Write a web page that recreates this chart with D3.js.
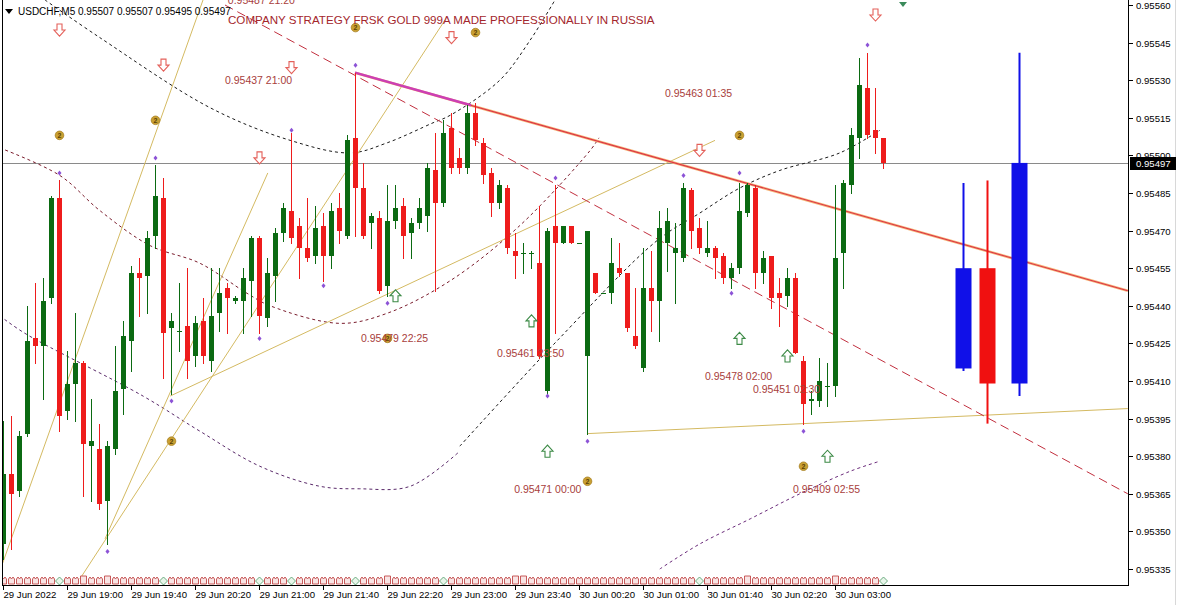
<!DOCTYPE html>
<html><head><meta charset="utf-8">
<script src="https://cdn.jsdelivr.net/npm/d3@7"></script>
<style>
html,body{margin:0;padding:0;background:#fff;}
svg text{font-family:"Liberation Sans",Arial,sans-serif;}
</style></head>
<body><svg id="c" width="1177" height="605"></svg>
<script>
// ---------------- DATA ----------------
const symbolHeader = "USDCHF,M5  0.95507 0.95507 0.95495 0.95497";
const chartTitle = "COMPANY STRATEGY FRSK GOLD 999A MADE PROFESSIONALLY IN RUSSIA";
const lastPrice = 0.95497;
const priceTicks = [0.95335,0.95350,0.95365,0.95380,0.95395,0.95410,0.95425,0.95440,0.95455,0.95470,0.95485,0.95500,0.95515,0.95530,0.95545,0.95560];
const timeTickBars = [0,8,16,24,32,40,48,56,64,72,80,88,96,104];
const timeTickLabels = ["29 Jun 2022","29 Jun 19:00","29 Jun 19:40","29 Jun 20:20","29 Jun 21:00","29 Jun 21:40","29 Jun 22:20","29 Jun 23:00","29 Jun 23:40","30 Jun 00:20","30 Jun 01:00","30 Jun 01:40","30 Jun 02:20","30 Jun 03:00"];

const openP = [0.95345,0.95373,0.95366,0.95389,0.95427,0.95424,0.95443,0.95483,0.95398,0.95409,
0.95417,0.95384,0.95383,0.95362,0.95383,0.95407,0.95426,0.95453,0.95452,0.95468,
0.95483,0.95431,0.95430,0.95432,0.95420,0.95434,0.95418,0.95437,0.95447,0.95442,
0.95442,0.95450,0.95467,0.95435,0.95452,0.95469,0.95478,0.95472,0.95463,0.95460,
0.95472,0.95460,0.95479,0.95468,0.95507,0.95487,0.95473,0.95475,0.95448,0.95474,
0.95480,0.95469,0.95473,0.95476,0.95494,0.95481,0.95511,0.95499,0.95495,0.95517,
0.95505,0.95493,0.95481,0.95487,0.95462,0.95461,0.95461,0.95457,0.95406,0.95472,
0.95465,0.95472,0.95465,0.95420,0.95453,0.95445,0.95445,0.95455,0.95453,0.95428,
0.95415,0.95447,0.95442,0.95465,0.95461,0.95459,0.95486,0.95471,0.95461,0.95463,
0.95460,0.95451,0.95455,0.95477,0.95487,0.95453,0.95460,0.95445,0.95444,0.95451,
0.95418,0.95402,0.95402,0.95408,0.95408,0.95461,0.95488,0.95507,0.95527,0.95510,0.95507];
const highP = [0.95394,0.95396,0.95390,0.95440,0.95449,0.95451,0.95484,0.95490,0.95422,0.95437,
0.95418,0.95403,0.95393,0.95386,0.95424,0.95434,0.95456,0.95459,0.95470,0.95496,
0.95491,0.95437,0.95449,0.95455,0.95436,0.95443,0.95455,0.95455,0.95449,0.95444,
0.95455,0.95468,0.95468,0.95459,0.95471,0.95481,0.95509,0.95475,0.95483,0.95480,
0.95477,0.95481,0.95485,0.95508,0.95533,0.95497,0.95477,0.95478,0.95488,0.95488,
0.95483,0.95475,0.95483,0.95497,0.95509,0.95514,0.95517,0.95503,0.95520,0.95521,
0.95507,0.95495,0.95490,0.95488,0.95469,0.95465,0.95462,0.95480,0.95471,0.95488,
0.95472,0.95472,0.95465,0.95470,0.95453,0.95445,0.95467,0.95465,0.95453,0.95447,
0.95463,0.95462,0.95478,0.95479,0.95473,0.95489,0.95487,0.95475,0.95474,0.95464,
0.95461,0.95457,0.95489,0.95489,0.95488,0.95462,0.95460,0.95451,0.95455,0.95453,
0.95420,0.95406,0.95419,0.95417,0.95488,0.95490,0.95511,0.95539,0.95541,0.95527,0.95507];
const lowP = [0.95339,0.95343,0.95364,0.95388,0.95417,0.95403,0.95441,0.95390,0.95395,0.95394,
0.95364,0.95362,0.95359,0.95345,0.95381,0.95397,0.95414,0.95436,0.95437,0.95463,
0.95411,0.95405,0.95422,0.95411,0.95416,0.95417,0.95414,0.95430,0.95429,0.95441,
0.95429,0.95436,0.95429,0.95432,0.95442,0.95466,0.95465,0.95451,0.95458,0.95457,
0.95450,0.95455,0.95465,0.95467,0.95468,0.95467,0.95463,0.95445,0.95444,0.95471,
0.95459,0.95459,0.95471,0.95470,0.95446,0.95480,0.95493,0.95493,0.95493,0.95504,
0.95489,0.95476,0.95479,0.95461,0.95451,0.95453,0.95455,0.95419,0.95405,0.95429,
0.95465,0.95465,0.95465,0.95389,0.95445,0.95445,0.95441,0.95452,0.95430,0.95423,
0.95414,0.95430,0.95426,0.95454,0.95441,0.95458,0.95463,0.95461,0.95460,0.95451,
0.95449,0.95447,0.95453,0.95476,0.95447,0.95449,0.95439,0.95432,0.95440,0.95421,
0.95393,0.95397,0.95400,0.95400,0.95404,0.95447,0.95485,0.95499,0.95507,0.95501,0.95495];
const closeP = [0.95373,0.95365,0.95388,0.95426,0.95424,0.95442,0.95483,0.95396,0.95409,0.95417,
0.95385,0.95386,0.95361,0.95384,0.95406,0.95428,0.95453,0.95451,0.95467,0.95484,
0.95429,0.95434,0.95430,0.95418,0.95433,0.95420,0.95436,0.95445,0.95443,0.95443,
0.95451,0.95467,0.95436,0.95453,0.95469,0.95479,0.95467,0.95463,0.95459,0.95471,
0.95460,0.95478,0.95470,0.95506,0.95487,0.95468,0.95476,0.95446,0.95474,0.95479,
0.95468,0.95473,0.95479,0.95495,0.95481,0.95509,0.95495,0.95495,0.95517,0.95506,
0.95492,0.95481,0.95488,0.95463,0.95460,0.95461,0.95461,0.95420,0.95470,0.95465,
0.95472,0.95465,0.95465,0.95470,0.95445,0.95445,0.95457,0.95453,0.95431,0.95424,
0.95447,0.95442,0.95471,0.95474,0.95463,0.95487,0.95470,0.95463,0.95463,0.95459,
0.95451,0.95455,0.95478,0.95488,0.95453,0.95459,0.95443,0.95443,0.95451,0.95421,
0.95401,0.95403,0.95410,0.95408,0.95459,0.95489,0.95508,0.95528,0.95508,0.95507,0.95497];

// projected higher-timeframe candles on the right
const projBars = [120, 123, 127];
const projOpen = [0.95415, 0.95455, 0.95409];
const projHigh = [0.95489, 0.95490, 0.95541];
const projLow = [0.95414, 0.95393, 0.95404];
const projClose = [0.95455, 0.95409, 0.95497];
const projKind = ["up", "down", "up"];

// fractal markers
const fractalUpBars = [7,19,36,44,69,85,92,108];
const fractalUpPrices = [0.95493,0.95499,0.95510,0.95536,0.95491,0.95492,0.95493,0.95544];
const fractalDnBars = [13,21,32,40,48,68,73,91,100];
const fractalDnPrices = [0.95342,0.95402,0.95427,0.95448,0.95441,0.95404,0.95386,0.95445,0.95390];

// signal arrows and icons
const sellArrowBars = [7,20,32,36,56,87,109];
const sellArrowPrices = [0.95550,0.95536,0.95499,0.95535,0.95547,0.95502,0.95556];
const buyArrowBars = [49,66,68,92,98,103];
const buyArrowPrices = [0.95444,0.95434,0.95382,0.95427,0.95420,0.95380];
const coinBars = [7,19,21,44,59,92,73,100,48];
const coinPrices = [0.95508,0.95514,0.95386,0.95551,0.95549,0.95508,0.95370,0.95376,0.95427];

// text annotations
const noteTexts = ["0.95437 21:00","0.95463 01:35","0.95479 22:25","0.95461 23:50","0.95478 02:00","0.95451 02:30","0.95471 00:00","0.95409 02:55","0.95487 21:20"];
const noteBars = [27.75,82.75,44.75,61.75,87.75,93.75,63.9,98.75,28.1];
const notePrices = [0.95530,0.95525,0.95427,0.95421,0.95412,0.95407,0.95367,0.95367,0.95562];

// bottom signal strip
const stripGreenBars = [7,20,32,36,44,55,87,110];
const stripTallBars = [10,13,48,64,65,93,104];

// band / envelope curves : [bar, price]
const bandBlackUpper = [[5.25,0.95562],[12.1,0.95547],[25.9,0.95519],[35.9,0.95506],[43.4,0.95501],[48,0.95505],[53.75,0.95513],[55.9,0.95516],[62.1,0.95530],[65.9,0.95546],[69,0.95562]];
const bandMaroonMid = [[-0.4,0.95503],[7.1,0.95492],[12.1,0.95478],[18.4,0.95464],[24.6,0.95457],[30.5,0.95445],[33.4,0.95440],[42.1,0.95433],[48,0.95437],[55.9,0.95450],[64.6,0.95472],[73.4,0.95502],[74.5,0.95507]];
const bandPurpleLower = [[-0.4,0.95436],[2.75,0.95429],[17.5,0.95404],[24.6,0.95390],[32.1,0.95376],[39.6,0.95368],[44.6,0.95367],[50.9,0.95368],[57.1,0.95382]];
const bandBlackLower = [[57.1,0.95384],[69.25,0.95426],[81.75,0.95466],[87.1,0.95477],[92.1,0.95487],[97.1,0.95494],[104.6,0.95501],[109.6,0.95510]];
const bandPurpleOuter = [[82.1,0.95335],[87.1,0.95345],[93.4,0.95355],[99.6,0.95365],[105.9,0.95374],[109.6,0.95378]];

// trend lines : [bar, price] pairs
const trendRedDashed = [[27.75,0.95560],[140.6,0.95365]];
const trendMainRay = [[44,0.95533],[140.6,0.95446]];
const trendMagenta = [[44,0.95533],[58.5,0.95520]];
const goldLines = [
  [[20.9,0.95404],[89,0.95506]],
  [[12.75,0.95347],[33.1,0.95493]],
  [[9.6,0.95331],[55.25,0.95554]],
  [[-0.75,0.95331],[25,0.95562]],
  [[73,0.95389],[140.6,0.95399]]
];

// ---------------- DRAW ----------------
const svg = d3.select("#c");
const W = 1177, H = 605;
const plotL = 2, plotR = 1128, plotB = 585;
const sx = d3.scaleLinear().domain([0,110]).range([3,883]);
const sy = d3.scaleLinear().domain([0.95335,0.95560]).range([569,5]);

svg.append("rect").attr("width",W).attr("height",H).attr("fill","#fff");
svg.append("defs").append("clipPath").attr("id","pc").append("rect")
  .attr("x",plotL).attr("y",0).attr("width",plotR-plotL).attr("height",plotB);
const g = svg.append("g").attr("clip-path","url(#pc)");

// current price line
g.append("line").attr("x1",plotL).attr("x2",plotR)
  .attr("y1",Math.round(sy(lastPrice))+0.5).attr("y2",Math.round(sy(lastPrice))+0.5)
  .attr("stroke","#8a8a8a").attr("stroke-width",1);

const lineGen = d3.line().x(d=>sx(d[0])).y(d=>sy(d[1]));
const curveGen = d3.line().x(d=>sx(d[0])).y(d=>sy(d[1])).curve(d3.curveCatmullRom);

// bands
const bandStyle = [[bandBlackUpper,"#1a1a1a"],[bandMaroonMid,"#7a1c2c"],[bandPurpleLower,"#5a2a6a"],[bandBlackLower,"#1a1a1a"],[bandPurpleOuter,"#6a2a7a"]];
bandStyle.forEach(([pts,col])=>{
  g.append("path").attr("d",curveGen(pts)).attr("fill","none").attr("stroke",col)
   .attr("stroke-width",1).attr("stroke-dasharray","3,3");
});

// gold lines
goldLines.forEach(pts=>{
  g.append("path").attr("d",lineGen(pts)).attr("fill","none").attr("stroke","#d4ba62").attr("stroke-width",1);
});

// red dashed
g.append("path").attr("d",lineGen(trendRedDashed)).attr("fill","none").attr("stroke","#c2303f")
  .attr("stroke-width",1).attr("stroke-dasharray","9,5");

// main ray
g.append("path").attr("d",lineGen(trendMainRay)).attr("fill","none").attr("stroke","#f5b676").attr("stroke-width",2.6);
g.append("path").attr("d",lineGen(trendMainRay)).attr("fill","none").attr("stroke","#dc3448").attr("stroke-width",1.1);
g.append("path").attr("d",lineGen(trendMagenta)).attr("fill","none").attr("stroke","#cc3fb4").attr("stroke-width",2.4);

// candles
const upCol = "#0b6a12", dnCol = "#ee1c1c";
openP.forEach((o,i)=>{
  const c = closeP[i], h = highP[i], l = lowP[i];
  const cx = Math.round(sx(i));
  const col = c > o ? upCol : (c < o ? dnCol : upCol);
  g.append("line").attr("x1",cx+0.5).attr("x2",cx+0.5)
    .attr("y1",Math.round(sy(h))).attr("y2",Math.round(sy(l))+1)
    .attr("stroke",col).attr("stroke-width",1);
  const yt = Math.round(sy(Math.max(o,c))), yb = Math.round(sy(Math.min(o,c)));
  g.append("rect").attr("x",cx-2).attr("width",5)
    .attr("y",yt).attr("height",Math.max(1,yb-yt)).attr("fill",col);
});

// projected candles
projBars.forEach((b,i)=>{
  const cx = Math.round(sx(b));
  const col = projKind[i]==="up" ? "#1010e8" : "#f01010";
  g.append("line").attr("x1",cx+0.5).attr("x2",cx+0.5)
    .attr("y1",sy(projHigh[i])).attr("y2",sy(projLow[i])).attr("stroke",col).attr("stroke-width",2);
  const yt = sy(Math.max(projOpen[i],projClose[i])), yb = sy(Math.min(projOpen[i],projClose[i]));
  g.append("rect").attr("x",cx-7.5).attr("width",16).attr("y",yt).attr("height",yb-yt).attr("fill",col);
});

// fractals (small purple diamonds)
const diamond = (x,y)=>`M${x},${y-2.5}L${x+2},${y}L${x},${y+2.5}L${x-2},${y}Z`;
fractalUpBars.forEach((b,i)=>g.append("path").attr("d",diamond(sx(b)+0.5,sy(fractalUpPrices[i]))).attr("fill","#8c52d6"));
fractalDnBars.forEach((b,i)=>g.append("path").attr("d",diamond(sx(b)+0.5,sy(fractalDnPrices[i]))).attr("fill","#8c52d6"));

// hollow arrows
function downArrow(x,y){
  return `M${x-2.5},${y-6}H${x+2.5}V${y}H${x+5.5}L${x},${y+6}L${x-5.5},${y}H${x-2.5}Z`;
}
function upArrow(x,y){
  return `M${x-2.5},${y+6}H${x+2.5}V${y}H${x+5.5}L${x},${y-6}L${x-5.5},${y}H${x-2.5}Z`;
}
sellArrowBars.forEach((b,i)=>g.append("path").attr("d",downArrow(sx(b)+0.5,sy(sellArrowPrices[i])))
  .attr("fill","#fff").attr("stroke","#e4605a").attr("stroke-width",1.1));
buyArrowBars.forEach((b,i)=>g.append("path").attr("d",upArrow(sx(b)+0.5,sy(buyArrowPrices[i])))
  .attr("fill","#fff").attr("stroke","#3c8a46").attr("stroke-width",1.1));

// coin icons
coinBars.forEach((b,i)=>{
  const x = sx(b)+0.5, y = sy(coinPrices[i]);
  g.append("circle").attr("cx",x).attr("cy",y).attr("r",4.3).attr("fill","#c9a032").attr("stroke","#a88224").attr("stroke-width",0.8);
  g.append("text").attr("x",x).attr("y",y+2.6).attr("text-anchor","middle").attr("font-size","7px")
    .attr("font-weight","bold").attr("fill","#5c4306").text("2");
});

// notes
noteTexts.forEach((t,i)=>{
  g.append("text").attr("x",sx(noteBars[i])).attr("y",sy(notePrices[i])+4)
    .attr("font-size","10.5px").attr("fill","#a8403c").text(t);
});

// bottom signal strip
d3.range(0,111).forEach(i=>{
  const x = sx(i)+0.5;
  const green = stripGreenBars.includes(i), tall = stripTallBars.includes(i);
  let d;
  if(green) d = `M${x-4},${581}L${x},${577}L${x+4},${581}L${x},${585}Z`;
  else if(tall) d = `M${x-3},${576}H${x+3}V${584}H${x-3}Z`;
  else d = `M${x-3},${584}V${579}L${x-1.5},${577}L${x},${579}L${x+1.5},${577}L${x+3},${579}V${584}Z`;
  g.append("path").attr("d",d).attr("fill",green?"#e8f6ea":"#f8e4e4")
   .attr("stroke",green?"#5aa070":"#c24a4a").attr("stroke-width",0.9);
});

// small green marker top
g.append("path").attr("d","M899,2L907,2L903,7Z").attr("fill","#3a8a5a");

// header
svg.append("path").attr("d","M5,9L13,9L9,14Z").attr("fill","#000");
svg.append("text").attr("x",18).attr("y",15).attr("font-size","10px").attr("fill","#000").text(symbolHeader);
svg.append("text").attr("x",228).attr("y",24).attr("font-size","11.6px").attr("fill","#a3262c").text(chartTitle);

// frame
svg.append("line").attr("x1",2.5).attr("x2",2.5).attr("y1",0).attr("y2",plotB+0.5).attr("stroke","#000");
svg.append("line").attr("x1",plotR+0.5).attr("x2",plotR+0.5).attr("y1",0).attr("y2",plotB+0.5).attr("stroke","#000");
svg.append("line").attr("x1",2).attr("x2",plotR+1).attr("y1",plotB+0.5).attr("y2",plotB+0.5).attr("stroke","#000");
svg.append("line").attr("x1",1175.5).attr("x2",1175.5).attr("y1",0).attr("y2",H).attr("stroke","#d8d8d8");

// price axis
priceTicks.forEach(p=>{
  const y = Math.round(sy(p))+0.5;
  svg.append("line").attr("x1",plotR+1).attr("x2",plotR+5).attr("y1",y).attr("y2",y).attr("stroke","#000");
  svg.append("text").attr("x",1136).attr("y",y+3.5).attr("font-size","9.6px").attr("fill","#000").text(p.toFixed(5));
});
// last price label
const ly = Math.round(sy(lastPrice));
svg.append("rect").attr("x",plotR+2).attr("y",ly-6).attr("width",46).attr("height",13).attr("fill","#000");
svg.append("text").attr("x",1136).attr("y",ly+4).attr("font-size","9.6px").attr("fill","#fff").text(lastPrice.toFixed(5));

// time axis
timeTickBars.forEach((b,i)=>{
  const x = Math.round(sx(b))+0.5;
  svg.append("line").attr("x1",x).attr("x2",x).attr("y1",plotB+1).attr("y2",plotB+5).attr("stroke","#000");
  svg.append("text").attr("x",x).attr("y",598).attr("font-size","9.6px").attr("fill","#000").text(timeTickLabels[i]);
});
</script></body></html>
